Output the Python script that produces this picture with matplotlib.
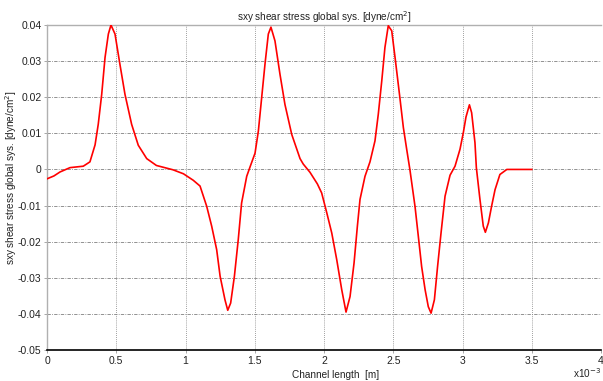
import matplotlib
matplotlib.use("Agg")
import matplotlib.pyplot as plt
from matplotlib.ticker import FuncFormatter, MultipleLocator
import numpy as np

plt.rcParams['font.family'] = ['Liberation Sans', 'DejaVu Sans']

# Channel length in mm (plotted in metres)
x_mm = [0.0, 0.05, 0.094, 0.166, 0.262, 0.31, 0.347, 0.37, 0.395, 0.419, 0.443, 0.462,
        0.491, 0.527, 0.563, 0.611, 0.659, 0.72, 0.79, 0.91, 0.985, 1.056, 1.105, 1.153,
        1.189, 1.225, 1.25, 1.285, 1.305, 1.326, 1.353, 1.381, 1.405, 1.442, 1.466, 1.502,
        1.526, 1.55, 1.574, 1.598, 1.617, 1.646, 1.682, 1.718, 1.767, 1.827, 1.85, 1.899,
        1.952, 1.983, 2.02, 2.056, 2.092, 2.128, 2.159, 2.188, 2.217, 2.241, 2.26, 2.296,
        2.332, 2.368, 2.392, 2.417, 2.44, 2.464, 2.489, 2.513, 2.545, 2.573, 2.597, 2.62,
        2.657, 2.681, 2.705, 2.73, 2.753, 2.773, 2.797, 2.82, 2.845, 2.874, 2.91, 2.946,
        2.982, 3.006, 3.025, 3.05, 3.066, 3.09, 3.10, 3.126, 3.15, 3.165, 3.187, 3.21,
        3.235, 3.27, 3.32, 3.4, 3.5]
sxy = [-0.0026, -0.0018, -0.0007, 0.0005, 0.0009, 0.0021, 0.0068, 0.0125, 0.0208, 0.031,
       0.0375, 0.0400, 0.0375, 0.029, 0.0208, 0.0125, 0.0067, 0.0030, 0.0011, -0.0001,
       -0.0012, -0.0030, -0.0046, -0.0102, -0.0157, -0.0222, -0.0296, -0.0361, -0.0390,
       -0.0370, -0.0296, -0.0194, -0.0093, -0.0019, 0.0007, 0.0045, 0.0106, 0.0199, 0.0292,
       0.0375, 0.0394, 0.0356, 0.0264, 0.0180, 0.0097, 0.0030, 0.0015, -0.0008, -0.0040,
       -0.0065, -0.0120, -0.0176, -0.0250, -0.0333, -0.0395, -0.0352, -0.0259, -0.0157,
       -0.0083, -0.0019, 0.0021, 0.0079, 0.0153, 0.0245, 0.0338, 0.0398, 0.0384, 0.0310,
       0.0208, 0.0116, 0.0056, 0.0, -0.0102, -0.0185, -0.0269, -0.0333, -0.0380, -0.0398,
       -0.0361, -0.0269, -0.0176, -0.0074, -0.0016, 0.0009, 0.0056, 0.0102, 0.0145, 0.0179,
       0.0157, 0.0074, 0.0005, -0.0083, -0.0157, -0.0174, -0.0148, -0.0102, -0.0056,
       -0.0014, 0.0, 0.0, 0.0]

title_text = "sxy shear stress global sys. [dyne/cm$^2$]"
ylabel_text = "sxy shear stress global sys. [dyne/cm$^2$]"
xlabel_text = "Channel length  [m]"
offset_text = "x10$^{-3}$"

x_m = np.array(x_mm) * 1e-3


def fmt_num(v):
    r = round(v, 4) + 0.0
    if abs(r) < 1e-12:
        r = 0.0
    return "%g" % r


fig = plt.figure(figsize=(6.03, 3.81), dpi=100)
ax = fig.add_axes([47/603, 1-350/381, (601-47)/603, (350-25)/381])

ax.plot(x_m, sxy, color='#ff0000', lw=1.2, zorder=3, solid_joinstyle='round')

ax.set_xlim(0, 4e-3)
ax.set_ylim(-0.05, 0.04)
ax.xaxis.set_major_locator(MultipleLocator(0.5e-3))
ax.yaxis.set_major_locator(MultipleLocator(0.01))
ax.xaxis.set_major_formatter(FuncFormatter(lambda v, p: fmt_num(v * 1e3)))
ax.yaxis.set_major_formatter(FuncFormatter(lambda v, p: fmt_num(v)))

ax.xaxis.grid(True, linestyle=(0, (1, 1.5)), color='#808080', lw=0.6)
ax.yaxis.grid(True, linestyle=(0, (4, 1.5, 1, 1.5)), color='#808080', lw=0.6)

for s in ['top', 'left']:
    ax.spines[s].set_color('#b0b0b0')
    ax.spines[s].set_linewidth(1.0)
ax.spines['right'].set_visible(False)
ax.spines['bottom'].set_color('black')
ax.spines['bottom'].set_linewidth(1.2)

ax.tick_params(axis='both', labelsize=7.5, length=2, width=0.6, color='#999999', pad=2,
               labelcolor='#222222')

ax.set_title(title_text, fontsize=7.2, pad=3, color='#222222')
ax.set_xlabel(xlabel_text, fontsize=7.2, color='#222222')
ax.xaxis.set_label_coords(0.52, -0.06)
ax.set_ylabel(ylabel_text, fontsize=7.2, color='#222222')
ax.yaxis.set_label_coords(-0.051, 0.53)
fig.text(573/603, 1-378/381, offset_text, fontsize=7.2, color='#222222', va='baseline')

fig.savefig("out.png", dpi=100)
